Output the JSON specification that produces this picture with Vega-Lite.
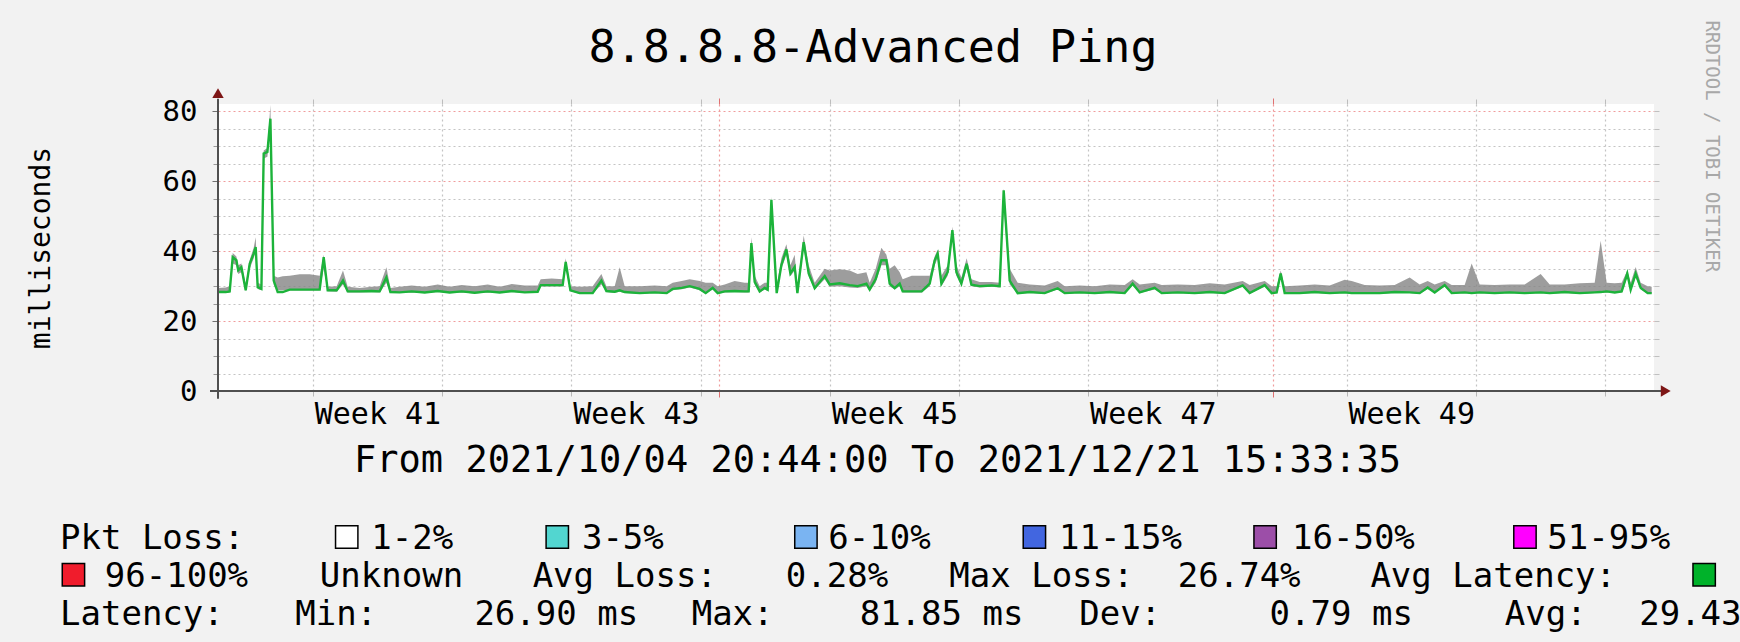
{
  "$schema": "https://vega.github.io/schema/vega-lite/v6.json",
  "width": 1436,
  "height": 287,
  "autosize": {"type": "none"},
  "padding": {"left": 218, "top": 104, "right": 86, "bottom": 251},
  "background": "#f2f2f2",
  "title": {
    "text": "8.8.8.8-Advanced Ping",
    "font": "DejaVu Sans Mono",
    "fontSize": 45,
    "fontWeight": "normal",
    "color": "#000000",
    "anchor": "middle",
    "frame": "group",
    "dx": -63,
    "dy": 131,
    "baseline": "alphabetic",
    "offset": 44
  },
  "config": {
    "view": {"fill": "#ffffff", "stroke": null},
    "axis": {"labelFont": "DejaVu Sans Mono", "titleFont": "DejaVu Sans Mono", "titleFontWeight": "normal"}
  },
  "layer": [
    {
      "data": {
        "values": [
          {"t": "2021-10-04T20:44", "m": 28.3, "lo": 28, "hi": 29.5},
          {"t": "2021-10-05T06:44", "m": 28.3, "lo": 28, "hi": 29.6},
          {"t": "2021-10-05T11:56", "m": 28.5, "lo": 28.2, "hi": 30},
          {"t": "2021-10-05T15:50", "m": 38.3, "lo": 36.5, "hi": 39.5},
          {"t": "2021-10-05T20:39", "m": 37.4, "lo": 36, "hi": 38.5},
          {"t": "2021-10-05T22:59", "m": 34.5, "lo": 33.5, "hi": 36},
          {"t": "2021-10-06T03:09", "m": 35.4, "lo": 34, "hi": 36.5},
          {"t": "2021-10-06T08:44", "m": 28.8, "lo": 28.5, "hi": 30.5},
          {"t": "2021-10-06T13:56", "m": 36.4, "lo": 35, "hi": 37.5},
          {"t": "2021-10-06T19:08", "m": 39.3, "lo": 38, "hi": 41},
          {"t": "2021-10-06T21:44", "m": 41.2, "lo": 40, "hi": 44},
          {"t": "2021-10-07T00:20", "m": 29.7, "lo": 29.2, "hi": 31},
          {"t": "2021-10-07T05:09", "m": 29.2, "lo": 28.8, "hi": 30.5},
          {"t": "2021-10-07T08:08", "m": 67.9, "lo": 66.5, "hi": 68.8},
          {"t": "2021-10-07T12:57", "m": 68.4, "lo": 67, "hi": 69.5},
          {"t": "2021-10-07T16:51", "m": 77.9, "lo": 76, "hi": 81.8},
          {"t": "2021-10-07T21:08", "m": 31.6, "lo": 30.5, "hi": 33},
          {"t": "2021-10-08T02:20", "m": 28.3, "lo": 28.8, "hi": 32.5},
          {"t": "2021-10-08T08:50", "m": 28.3, "lo": 28.8, "hi": 32.8},
          {"t": "2021-10-08T17:56", "m": 29, "lo": 28.8, "hi": 33},
          {"t": "2021-10-09T06:56", "m": 29, "lo": 28.8, "hi": 33.4},
          {"t": "2021-10-09T19:56", "m": 29, "lo": 28.8, "hi": 33.4},
          {"t": "2021-10-10T08:56", "m": 29, "lo": 28.8, "hi": 33},
          {"t": "2021-10-10T14:08", "m": 38.3, "lo": 35, "hi": 39},
          {"t": "2021-10-10T19:20", "m": 28.8, "lo": 28.5, "hi": 29.8},
          {"t": "2021-10-11T07:02", "m": 28.8, "lo": 28.4, "hi": 30},
          {"t": "2021-10-11T15:14", "m": 31.6, "lo": 30.5, "hi": 34.5},
          {"t": "2021-10-11T21:20", "m": 28.5, "lo": 28.2, "hi": 29.8},
          {"t": "2021-10-12T12:56", "m": 28.5, "lo": 28.2, "hi": 29.5},
          {"t": "2021-10-13T04:32", "m": 28.6, "lo": 28.3, "hi": 29.8},
          {"t": "2021-10-13T14:56", "m": 28.5, "lo": 28.2, "hi": 30},
          {"t": "2021-10-13T23:39", "m": 32.5, "lo": 31, "hi": 35.4},
          {"t": "2021-10-14T04:51", "m": 28.3, "lo": 28, "hi": 29.5},
          {"t": "2021-10-14T16:56", "m": 28.2, "lo": 28, "hi": 29.8},
          {"t": "2021-10-15T08:32", "m": 28.5, "lo": 28.2, "hi": 30.2},
          {"t": "2021-10-16T01:26", "m": 28.2, "lo": 28, "hi": 29.8},
          {"t": "2021-10-16T18:20", "m": 28.6, "lo": 28.3, "hi": 30.5},
          {"t": "2021-10-17T09:56", "m": 28.2, "lo": 28, "hi": 29.8},
          {"t": "2021-10-18T01:32", "m": 28.5, "lo": 28.2, "hi": 30.3},
          {"t": "2021-10-18T18:26", "m": 28.1, "lo": 27.9, "hi": 30},
          {"t": "2021-10-19T11:20", "m": 28.5, "lo": 28.2, "hi": 30.5},
          {"t": "2021-10-20T02:56", "m": 28.2, "lo": 28, "hi": 29.8},
          {"t": "2021-10-20T18:32", "m": 28.6, "lo": 28.3, "hi": 30.6},
          {"t": "2021-10-21T11:26", "m": 28.2, "lo": 28, "hi": 30.2},
          {"t": "2021-10-22T04:20", "m": 28.4, "lo": 28.1, "hi": 30.2},
          {"t": "2021-10-22T08:14", "m": 30.3, "lo": 29.9, "hi": 32},
          {"t": "2021-10-22T22:32", "m": 30.3, "lo": 29.9, "hi": 32.2},
          {"t": "2021-10-23T12:50", "m": 30.3, "lo": 29.9, "hi": 32},
          {"t": "2021-10-23T16:44", "m": 36.9, "lo": 35, "hi": 38},
          {"t": "2021-10-23T22:51", "m": 28.8, "lo": 28.5, "hi": 30},
          {"t": "2021-10-24T10:56", "m": 28, "lo": 27.8, "hi": 29.8},
          {"t": "2021-10-25T03:50", "m": 28, "lo": 27.8, "hi": 30},
          {"t": "2021-10-25T15:09", "m": 31.6, "lo": 30.5, "hi": 33.5},
          {"t": "2021-10-25T21:39", "m": 28.6, "lo": 28.3, "hi": 30},
          {"t": "2021-10-26T08:26", "m": 28.4, "lo": 28.1, "hi": 30},
          {"t": "2021-10-26T14:56", "m": 28.8, "lo": 28.4, "hi": 35.4},
          {"t": "2021-10-26T21:26", "m": 28.3, "lo": 28, "hi": 30},
          {"t": "2021-10-27T16:56", "m": 28, "lo": 27.8, "hi": 30},
          {"t": "2021-10-28T12:26", "m": 28.2, "lo": 28, "hi": 30.2},
          {"t": "2021-10-29T04:02", "m": 28, "lo": 27.8, "hi": 30},
          {"t": "2021-10-29T11:50", "m": 29.2, "lo": 28.8, "hi": 31},
          {"t": "2021-10-29T23:32", "m": 29.5, "lo": 29.1, "hi": 31.5},
          {"t": "2021-10-30T09:56", "m": 30, "lo": 29.6, "hi": 32},
          {"t": "2021-10-30T22:56", "m": 29.2, "lo": 28.8, "hi": 31.5},
          {"t": "2021-10-31T06:44", "m": 28, "lo": 27.8, "hi": 31},
          {"t": "2021-10-31T15:50", "m": 29.5, "lo": 29, "hi": 31},
          {"t": "2021-10-31T22:20", "m": 28, "lo": 27.8, "hi": 30},
          {"t": "2021-11-01T07:26", "m": 28.5, "lo": 28.2, "hi": 30.5},
          {"t": "2021-11-01T20:26", "m": 28.6, "lo": 28.3, "hi": 31.5},
          {"t": "2021-11-02T09:26", "m": 28.5, "lo": 28.2, "hi": 31},
          {"t": "2021-11-02T14:38", "m": 28.5, "lo": 28.2, "hi": 31},
          {"t": "2021-11-02T18:09", "m": 42.3, "lo": 40, "hi": 44},
          {"t": "2021-11-02T22:26", "m": 31.2, "lo": 30.5, "hi": 33},
          {"t": "2021-11-03T04:56", "m": 28.5, "lo": 28.2, "hi": 30},
          {"t": "2021-11-03T11:26", "m": 29.5, "lo": 29, "hi": 31},
          {"t": "2021-11-03T15:20", "m": 29, "lo": 28.6, "hi": 31},
          {"t": "2021-11-03T20:09", "m": 54.7, "lo": 51, "hi": 55.5},
          {"t": "2021-11-04T03:02", "m": 28, "lo": 27.8, "hi": 30},
          {"t": "2021-11-04T09:09", "m": 36, "lo": 35, "hi": 38},
          {"t": "2021-11-04T15:39", "m": 40.5, "lo": 39, "hi": 42},
          {"t": "2021-11-04T20:51", "m": 33.6, "lo": 32.8, "hi": 36},
          {"t": "2021-11-05T02:26", "m": 35.5, "lo": 34.5, "hi": 39},
          {"t": "2021-11-05T05:57", "m": 28, "lo": 27.8, "hi": 30},
          {"t": "2021-11-05T14:08", "m": 42.6, "lo": 41, "hi": 44.5},
          {"t": "2021-11-05T20:38", "m": 33.6, "lo": 32.8, "hi": 36},
          {"t": "2021-11-06T04:26", "m": 29.4, "lo": 29, "hi": 31},
          {"t": "2021-11-06T17:26", "m": 32.9, "lo": 32, "hi": 35},
          {"t": "2021-11-06T23:56", "m": 30.5, "lo": 29.8, "hi": 34.5},
          {"t": "2021-11-07T12:56", "m": 30.8, "lo": 30, "hi": 34.8},
          {"t": "2021-11-08T01:56", "m": 30.3, "lo": 29.6, "hi": 34.5},
          {"t": "2021-11-08T12:20", "m": 30, "lo": 29.5, "hi": 33.5},
          {"t": "2021-11-08T23:39", "m": 30.7, "lo": 30, "hi": 34},
          {"t": "2021-11-09T03:56", "m": 29, "lo": 28.6, "hi": 31},
          {"t": "2021-11-09T11:44", "m": 32, "lo": 31, "hi": 35},
          {"t": "2021-11-09T19:09", "m": 37.4, "lo": 36, "hi": 41},
          {"t": "2021-11-10T01:39", "m": 37.4, "lo": 36, "hi": 39},
          {"t": "2021-11-10T05:56", "m": 30.7, "lo": 30, "hi": 35},
          {"t": "2021-11-10T12:26", "m": 29.4, "lo": 29, "hi": 36},
          {"t": "2021-11-10T18:56", "m": 30.7, "lo": 30, "hi": 34},
          {"t": "2021-11-10T22:50", "m": 28.5, "lo": 28.2, "hi": 32},
          {"t": "2021-11-11T10:32", "m": 28.5, "lo": 28.2, "hi": 33},
          {"t": "2021-11-11T23:32", "m": 28.5, "lo": 28.2, "hi": 33},
          {"t": "2021-11-12T09:56", "m": 30.7, "lo": 30, "hi": 33},
          {"t": "2021-11-12T16:26", "m": 37.4, "lo": 36, "hi": 38.5},
          {"t": "2021-11-12T20:20", "m": 39.3, "lo": 38, "hi": 40.5},
          {"t": "2021-11-13T01:09", "m": 30.7, "lo": 30, "hi": 33},
          {"t": "2021-11-13T09:20", "m": 34, "lo": 33, "hi": 36},
          {"t": "2021-11-13T15:27", "m": 46, "lo": 44, "hi": 47},
          {"t": "2021-11-13T20:39", "m": 34, "lo": 33, "hi": 36},
          {"t": "2021-11-14T03:09", "m": 30.7, "lo": 30.2, "hi": 32.5},
          {"t": "2021-11-14T10:02", "m": 36.4, "lo": 35, "hi": 38},
          {"t": "2021-11-14T16:09", "m": 30.4, "lo": 30, "hi": 32},
          {"t": "2021-11-15T02:56", "m": 30, "lo": 29.6, "hi": 31.2},
          {"t": "2021-11-15T18:32", "m": 30.2, "lo": 29.8, "hi": 31.2},
          {"t": "2021-11-16T04:56", "m": 30, "lo": 29.6, "hi": 31},
          {"t": "2021-11-16T10:08", "m": 57.4, "lo": 53, "hi": 58},
          {"t": "2021-11-16T17:56", "m": 31.6, "lo": 30.5, "hi": 35},
          {"t": "2021-11-17T04:20", "m": 28, "lo": 27.8, "hi": 31},
          {"t": "2021-11-17T19:56", "m": 28.3, "lo": 28, "hi": 30.5},
          {"t": "2021-11-18T15:26", "m": 28, "lo": 27.8, "hi": 30.2},
          {"t": "2021-11-19T08:20", "m": 29.4, "lo": 29, "hi": 31.5},
          {"t": "2021-11-19T17:26", "m": 28, "lo": 27.8, "hi": 30},
          {"t": "2021-11-20T12:56", "m": 28.2, "lo": 28, "hi": 30.2},
          {"t": "2021-11-21T08:26", "m": 28, "lo": 27.8, "hi": 30},
          {"t": "2021-11-22T03:56", "m": 28.3, "lo": 28, "hi": 30.5},
          {"t": "2021-11-22T23:26", "m": 28, "lo": 27.8, "hi": 30.3},
          {"t": "2021-11-23T09:50", "m": 30.7, "lo": 30.2, "hi": 32},
          {"t": "2021-11-23T18:56", "m": 28.2, "lo": 28, "hi": 30.5},
          {"t": "2021-11-24T14:26", "m": 29.5, "lo": 29, "hi": 31},
          {"t": "2021-11-24T23:32", "m": 28, "lo": 27.8, "hi": 30.3},
          {"t": "2021-11-25T20:20", "m": 28.2, "lo": 28, "hi": 30.5},
          {"t": "2021-11-26T18:26", "m": 28, "lo": 27.8, "hi": 30.3},
          {"t": "2021-11-27T13:56", "m": 28.3, "lo": 28, "hi": 30.8},
          {"t": "2021-11-28T09:26", "m": 28, "lo": 27.8, "hi": 30.5},
          {"t": "2021-11-29T08:50", "m": 30.2, "lo": 29.8, "hi": 31.5},
          {"t": "2021-11-29T17:56", "m": 28, "lo": 27.8, "hi": 30.3},
          {"t": "2021-11-30T13:26", "m": 30.3, "lo": 29.8, "hi": 31.5},
          {"t": "2021-11-30T22:32", "m": 28, "lo": 27.8, "hi": 30},
          {"t": "2021-12-01T05:02", "m": 28.2, "lo": 28, "hi": 30},
          {"t": "2021-12-01T10:14", "m": 33.6, "lo": 32.5, "hi": 34.5},
          {"t": "2021-12-01T15:26", "m": 28, "lo": 27.8, "hi": 30},
          {"t": "2021-12-02T10:56", "m": 28, "lo": 27.8, "hi": 30.2},
          {"t": "2021-12-03T06:26", "m": 28.3, "lo": 28, "hi": 30.5},
          {"t": "2021-12-04T01:56", "m": 28, "lo": 27.8, "hi": 30.2},
          {"t": "2021-12-04T21:26", "m": 28.2, "lo": 28, "hi": 31.8},
          {"t": "2021-12-05T06:32", "m": 28, "lo": 27.8, "hi": 31.5},
          {"t": "2021-12-05T23:26", "m": 28, "lo": 27.8, "hi": 30.3},
          {"t": "2021-12-06T18:56", "m": 28, "lo": 27.8, "hi": 30.2},
          {"t": "2021-12-07T14:26", "m": 28.3, "lo": 28, "hi": 30.3},
          {"t": "2021-12-08T09:56", "m": 28.2, "lo": 28, "hi": 32.5},
          {"t": "2021-12-08T22:56", "m": 28, "lo": 27.8, "hi": 30.5},
          {"t": "2021-12-09T09:20", "m": 29.6, "lo": 29.2, "hi": 31.5},
          {"t": "2021-12-09T18:26", "m": 28.2, "lo": 28, "hi": 30.5},
          {"t": "2021-12-10T07:26", "m": 30.3, "lo": 29.8, "hi": 31.5},
          {"t": "2021-12-10T16:32", "m": 28, "lo": 27.8, "hi": 30.3},
          {"t": "2021-12-11T09:26", "m": 28.2, "lo": 28, "hi": 30.3},
          {"t": "2021-12-11T18:32", "m": 28, "lo": 27.8, "hi": 36.5},
          {"t": "2021-12-12T04:56", "m": 28.2, "lo": 28, "hi": 30.5},
          {"t": "2021-12-13T00:26", "m": 28, "lo": 27.8, "hi": 30.3},
          {"t": "2021-12-13T19:56", "m": 28.2, "lo": 28, "hi": 30.5},
          {"t": "2021-12-14T15:26", "m": 28, "lo": 27.8, "hi": 30.5},
          {"t": "2021-12-15T12:14", "m": 28.2, "lo": 28, "hi": 33.5},
          {"t": "2021-12-15T23:56", "m": 28, "lo": 27.8, "hi": 30.5},
          {"t": "2021-12-16T19:26", "m": 28.3, "lo": 28, "hi": 30.5},
          {"t": "2021-12-17T14:56", "m": 28, "lo": 27.8, "hi": 30.8},
          {"t": "2021-12-18T10:26", "m": 28.2, "lo": 28, "hi": 31},
          {"t": "2021-12-18T18:14", "m": 28.3, "lo": 28, "hi": 43},
          {"t": "2021-12-19T02:02", "m": 28.5, "lo": 28.2, "hi": 31},
          {"t": "2021-12-19T12:26", "m": 28.2, "lo": 28, "hi": 30.8},
          {"t": "2021-12-19T21:32", "m": 28.5, "lo": 28.2, "hi": 31},
          {"t": "2021-12-20T04:49", "m": 33.6, "lo": 32.5, "hi": 34.5},
          {"t": "2021-12-20T09:14", "m": 29, "lo": 28.6, "hi": 31},
          {"t": "2021-12-20T15:44", "m": 33.6, "lo": 32.5, "hi": 35.5},
          {"t": "2021-12-20T22:14", "m": 29.5, "lo": 29, "hi": 31},
          {"t": "2021-12-21T07:20", "m": 28, "lo": 27.8, "hi": 30},
          {"t": "2021-12-21T12:32", "m": 28, "lo": 27.8, "hi": 29.8}
        ]
      },
      "layer": [
        {
          "mark": {"type": "line", "opacity": 0},
          "encoding": {
            "x": {
              "field": "t", "type": "temporal",
              "scale": {"domain": [{"year": 2021, "month": 10, "date": 4, "hours": 20, "minutes": 44}, {"year": 2021, "month": 12, "date": 21, "hours": 15, "minutes": 33, "seconds": 35}], "nice": false},
              "axis": {
                "orient": "bottom",
                "values": [{"year": 2021, "month": 10, "date": 10}, {"year": 2021, "month": 10, "date": 17}, {"year": 2021, "month": 10, "date": 24}, {"year": 2021, "month": 10, "date": 31}, {"year": 2021, "month": 11, "date": 7}, {"year": 2021, "month": 11, "date": 14}, {"year": 2021, "month": 11, "date": 21}, {"year": 2021, "month": 11, "date": 28}, {"year": 2021, "month": 12, "date": 5}, {"year": 2021, "month": 12, "date": 12}, {"year": 2021, "month": 12, "date": 19}],
                "grid": true, "gridColor": "#c4c4c4", "gridDash": [2, 3], "gridWidth": 1.2,
                "labels": false, "ticks": true, "tickSize": 5, "tickColor": "#b8b8b8",
                "domain": false, "title": null, "zindex": 0
              }
            },
            "y": {
              "field": "m", "type": "quantitative",
              "scale": {"domain": [0, 82.1], "nice": false, "zero": false},
              "axis": {
                "orient": "left",
                "values": [5, 10, 15, 25, 30, 35, 45, 50, 55, 65, 70, 75],
                "grid": true, "gridColor": "#c4c4c4", "gridDash": [2, 3], "gridWidth": 1.2,
                "labels": false, "ticks": true, "tickSize": 5, "tickColor": "#999999",
                "domain": false, "title": null, "zindex": 0
              }
            }
          }
        },
        {
          "mark": {"type": "line", "opacity": 0},
          "encoding": {
            "x": {
              "field": "t", "type": "temporal",
              "scale": {"domain": [{"year": 2021, "month": 10, "date": 4, "hours": 20, "minutes": 44}, {"year": 2021, "month": 12, "date": 21, "hours": 15, "minutes": 33, "seconds": 35}], "nice": false},
              "axis": {
                "orient": "bottom",
                "values": [{"year": 2021, "month": 11, "date": 1}, {"year": 2021, "month": 12, "date": 1}],
                "grid": true, "gridColor": "#f09c9c", "gridDash": [2, 3], "gridWidth": 1.2,
                "labels": false, "ticks": true, "tickSize": 6, "tickColor": "#e07070",
                "domain": false, "title": null, "zindex": 0
              }
            },
            "y": {
              "field": "m", "type": "quantitative",
              "scale": {"domain": [0, 82.1], "nice": false, "zero": false},
              "axis": {
                "orient": "left",
                "values": [0, 20, 40, 60, 80],
                "grid": true, "gridColor": "#f09c9c", "gridDash": [2, 3], "gridWidth": 1.2,
                "labels": true, "labelFontSize": 29, "labelColor": "#000000", "labelPadding": 15, "labelBaseline": "middle",
                "ticks": true, "tickSize": 6, "tickColor": "#707070",
                "domain": false,
                "title": "milliseconds", "titleFontSize": 28, "titleColor": "#000000",
                "titleX": -177, "titleY": 143.5, "titleAngle": -90, "titleAlign": "center", "titleBaseline": "middle",
                "zindex": 0
              }
            }
          }
        },
        {
          "mark": {"type": "line", "opacity": 0},
          "encoding": {
            "x": {
              "field": "t", "type": "temporal",
              "scale": {"domain": [{"year": 2021, "month": 10, "date": 4, "hours": 20, "minutes": 44}, {"year": 2021, "month": 12, "date": 21, "hours": 15, "minutes": 33, "seconds": 35}], "nice": false},
              "axis": {
                "orient": "bottom",
                "values": [{"year": 2021, "month": 10, "date": 13, "hours": 12}, {"year": 2021, "month": 10, "date": 27, "hours": 12}, {"year": 2021, "month": 11, "date": 10, "hours": 12}, {"year": 2021, "month": 11, "date": 24, "hours": 12}, {"year": 2021, "month": 12, "date": 8, "hours": 12}],
                "format": "Week %V",
                "grid": false, "ticks": false, "tickSize": 0,
                "labels": true, "labelFontSize": 30, "labelColor": "#000000", "labelPadding": 32, "labelBaseline": "alphabetic",
                "labelFlush": false, "labelOverlap": false,
                "domain": false,
                "title": "From 2021/10/04 20:44:00 To 2021/12/21 15:33:35",
                "titleFontSize": 37, "titleColor": "#000000",
                "titleX": 659, "titleY": 80, "titleAlign": "center", "titleBaseline": "alphabetic"
              }
            },
            "y": {
              "field": "m", "type": "quantitative",
              "scale": {"domain": [0, 82.1], "nice": false, "zero": false},
              "axis": {
                "orient": "right",
                "values": [5, 10, 15, 20, 25, 30, 35, 40, 45, 50, 55, 60, 65, 70, 75, 80],
                "grid": false, "labels": false, "ticks": true, "tickSize": 5, "tickColor": "#c0c0c0",
                "domain": false,
                "title": "RRDTOOL / TOBI OETIKER", "titleFontSize": 19, "titleColor": "#a8a8a8",
                "titleAngle": 90, "titleX": 57, "titleY": -84, "titleAlign": "left", "titleBaseline": "middle"
              }
            }
          }
        },
        {
          "mark": {"type": "area", "color": "#858585", "opacity": 0.8},
          "encoding": {
            "x": {
              "field": "t", "type": "temporal",
              "scale": {"domain": [{"year": 2021, "month": 10, "date": 4, "hours": 20, "minutes": 44}, {"year": 2021, "month": 12, "date": 21, "hours": 15, "minutes": 33, "seconds": 35}], "nice": false},
              "axis": {
                "orient": "top",
                "values": [{"year": 2021, "month": 10, "date": 10}, {"year": 2021, "month": 10, "date": 17}, {"year": 2021, "month": 10, "date": 24}, {"year": 2021, "month": 10, "date": 31}, {"year": 2021, "month": 11, "date": 7}, {"year": 2021, "month": 11, "date": 14}, {"year": 2021, "month": 11, "date": 21}, {"year": 2021, "month": 11, "date": 28}, {"year": 2021, "month": 12, "date": 5}, {"year": 2021, "month": 12, "date": 12}, {"year": 2021, "month": 12, "date": 19}],
                "grid": false, "labels": false, "ticks": true, "tickSize": 5, "tickColor": "#bdbdbd",
                "domain": false, "title": null
              }
            },
            "y": {"field": "lo", "type": "quantitative", "scale": {"domain": [0, 82.1], "nice": false, "zero": false}, "axis": null},
            "y2": {"field": "hi"}
          }
        },
        {
          "mark": {"type": "line", "color": "#1cb33a", "strokeWidth": 2.4},
          "encoding": {
            "x": {
              "field": "t", "type": "temporal",
              "scale": {"domain": [{"year": 2021, "month": 10, "date": 4, "hours": 20, "minutes": 44}, {"year": 2021, "month": 12, "date": 21, "hours": 15, "minutes": 33, "seconds": 35}], "nice": false},
              "axis": {
                "orient": "top",
                "values": [{"year": 2021, "month": 11, "date": 1}, {"year": 2021, "month": 12, "date": 1}],
                "grid": false, "labels": false, "ticks": true, "tickSize": 6, "tickColor": "#e07070",
                "domain": false, "title": null
              }
            },
            "y": {"field": "m", "type": "quantitative", "scale": {"domain": [0, 82.1], "nice": false, "zero": false}, "axis": null}
          }
        },
        {
          "data": {"values": [{}]},
          "layer": [
            {
              "mark": {"type": "rule", "color": "#505050", "strokeWidth": 2},
              "encoding": {
                "x": {"datum": {"year": 2021, "month": 10, "date": 4, "hours": 20, "minutes": 44}, "type": "temporal", "axis": null},
                "y": {"datum": -2.2, "type": "quantitative", "axis": null},
                "y2": {"datum": 83.6}
              }
            },
            {
              "mark": {"type": "rule", "color": "#505050", "strokeWidth": 2},
              "encoding": {
                "x": {"datum": {"year": 2021, "month": 10, "date": 4, "hours": 10, "minutes": 20}, "type": "temporal", "axis": null},
                "x2": {"datum": {"year": 2021, "month": 12, "date": 22, "hours": 4}},
                "y": {"datum": 0, "type": "quantitative", "axis": null}
              }
            },
            {
              "mark": {"type": "point", "shape": "triangle-up", "filled": true, "color": "#7d1616", "size": 130, "opacity": 1},
              "encoding": {
                "x": {"datum": {"year": 2021, "month": 10, "date": 4, "hours": 20, "minutes": 44}, "type": "temporal", "axis": null},
                "y": {"datum": 85.2, "type": "quantitative", "axis": null}
              }
            },
            {
              "mark": {"type": "point", "shape": "triangle-right", "filled": true, "color": "#7d1616", "size": 130, "opacity": 1},
              "encoding": {
                "x": {"datum": {"year": 2021, "month": 12, "date": 22, "hours": 6, "minutes": 50}, "type": "temporal", "axis": null},
                "y": {"datum": 0, "type": "quantitative", "axis": null}
              }
            }
          ]
        }
      ],
      "resolve": {"axis": {"x": "independent", "y": "independent"}}
    },
    {
      "data": {
        "values": [
          {"line": 1, "col": 0, "text": "Pkt Loss:"},
          {"line": 1, "col": 12.8, "swatch": "1-2%"},
          {"line": 1, "col": 13.9, "text": "1-2%"},
          {"line": 1, "col": 22.2, "swatch": "3-5%"},
          {"line": 1, "col": 23.3, "text": "3-5%"},
          {"line": 1, "col": 33.3, "swatch": "6-10%"},
          {"line": 1, "col": 34.3, "text": "6-10%"},
          {"line": 1, "col": 43.5, "swatch": "11-15%"},
          {"line": 1, "col": 44.6, "text": "11-15%"},
          {"line": 1, "col": 53.8, "swatch": "16-50%"},
          {"line": 1, "col": 55.0, "text": "16-50%"},
          {"line": 1, "col": 65.4, "swatch": "51-95%"},
          {"line": 1, "col": 66.4, "text": "51-95%"},
          {"line": 2, "col": 0.6, "swatch": "96-100%"},
          {"line": 2, "col": 2.0, "text": "96-100%"},
          {"line": 2, "col": 11.6, "text": "Unknown"},
          {"line": 2, "col": 21.1, "text": "Avg Loss:"},
          {"line": 2, "col": 32.4, "text": "0.28%"},
          {"line": 2, "col": 39.7, "text": "Max Loss:"},
          {"line": 2, "col": 49.9, "text": "26.74%"},
          {"line": 2, "col": 58.5, "text": "Avg Latency:"},
          {"line": 2, "col": 73.4, "swatch": "0%"},
          {"line": 3, "col": 0, "text": "Latency:"},
          {"line": 3, "col": 10.5, "text": "Min:"},
          {"line": 3, "col": 18.5, "text": "26.90 ms"},
          {"line": 3, "col": 28.2, "text": "Max:"},
          {"line": 3, "col": 35.7, "text": "81.85 ms"},
          {"line": 3, "col": 45.5, "text": "Dev:"},
          {"line": 3, "col": 54.0, "text": "0.79 ms"},
          {"line": 3, "col": 64.5, "text": "Avg:"},
          {"line": 3, "col": 70.5, "text": "29.43 ms"}
        ]
      },
      "layer": [
        {
          "transform": [{"filter": "datum.text != null"}],
          "mark": {"type": "text", "font": "DejaVu Sans Mono", "fontSize": 34, "align": "left", "baseline": "middle", "color": "#000000"},
          "encoding": {
            "x": {"field": "col", "type": "quantitative", "scale": {"domain": [0, 75], "range": [-158, 1522], "nice": false, "zero": false}, "axis": null},
            "y": {"field": "line", "type": "quantitative", "scale": {"domain": [1, 3], "range": [435, 510.5], "nice": false, "zero": false}, "axis": null},
            "text": {"field": "text"}
          }
        },
        {
          "transform": [{"filter": "datum.swatch != null"}],
          "mark": {"type": "point", "shape": "square", "filled": true, "size": 500, "stroke": "#000000", "strokeWidth": 1.5, "opacity": 1, "yOffset": -2},
          "encoding": {
            "x": {"field": "col", "type": "quantitative", "scale": {"domain": [0, 75], "range": [-158, 1522], "nice": false, "zero": false}, "axis": null},
            "y": {"field": "line", "type": "quantitative", "scale": {"domain": [1, 3], "range": [435, 510.5], "nice": false, "zero": false}, "axis": null},
            "color": {
              "field": "swatch", "type": "nominal",
              "scale": {"domain": ["1-2%", "3-5%", "6-10%", "11-15%", "16-50%", "51-95%", "96-100%", "0%"], "range": ["#ffffff", "#52d6d0", "#7ab4f2", "#4266e0", "#9c4ea8", "#ff00ff", "#f01c2c", "#00b22a"]},
              "legend": null
            }
          }
        }
      ]
    }
  ],
  "resolve": {"scale": {"x": "independent", "y": "independent", "color": "independent"}}
}
